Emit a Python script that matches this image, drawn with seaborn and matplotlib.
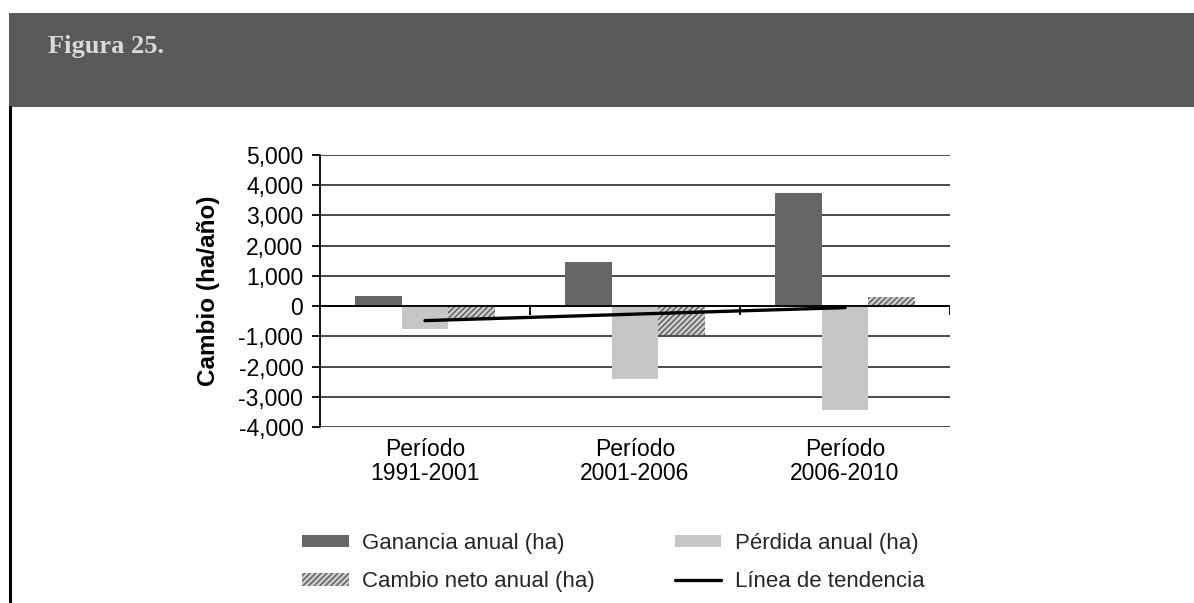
import matplotlib
matplotlib.use("Agg")
import matplotlib.pyplot as plt
import seaborn as sns
import pandas as pd
import numpy as np
from matplotlib.patches import Patch, Rectangle
from matplotlib.lines import Line2D
from matplotlib.ticker import FuncFormatter, MultipleLocator

# ---- data ----
periods = ["Período\n1991-2001", "Período\n2001-2006", "Período\n2006-2010"]
series = ["Ganancia anual (ha)", "Pérdida anual (ha)", "Cambio neto anual (ha)"]
ganancia = [350, 1450, 3750]
perdida = [-750, -2420, -3450]
cambio_neto = [-400, -970, 300]
tendencia = [-480, -265, -50]
trend_label = "Línea de tendencia"
title = "Figura 25."
ylabel = "Cambio (ha/año)"

df = pd.DataFrame({
    "period": periods * 3,
    "serie": [series[0]] * 3 + [series[1]] * 3 + [series[2]] * 3,
    "value": ganancia + perdida + cambio_neto,
})

sns.set_theme(style="white")
plt.rcParams["font.family"] = ["Liberation Sans", "DejaVu Sans"]

colors = {series[0]: "#666666", series[1]: "#c6c6c6", series[2]: "#cdcdcd"}

fig = plt.figure(figsize=(11.94, 6.03), dpi=100)
fig.patch.set_facecolor("white")

# header band
fig.add_artist(Rectangle((9 / 1194, 1 - 107 / 603), 1 - 9 / 1194, 94 / 603,
                         transform=fig.transFigure, facecolor="#59595b",
                         edgecolor="none", zorder=0))
fig.text(48 / 1194, 1 - 46 / 603, title, family=["Liberation Serif", "DejaVu Serif"],
         fontweight="bold", fontsize=19, color="#dadada", va="center", ha="left")
# left vertical rule
fig.add_artist(Line2D([10 / 1194, 10 / 1194], [0, 1 - 107 / 603],
                      transform=fig.transFigure, color="black", lw=2.2))

ax = fig.add_axes([320 / 1194, 1 - 427 / 603, 630 / 1194, 272 / 603])
sns.barplot(data=df, x="period", y="value", hue="serie", order=periods,
            hue_order=series, palette=colors, width=0.67, ax=ax,
            legend=False, saturation=1, edgecolor="none", linewidth=0,
            zorder=2)

# hatch the net-change bars
net_bars = ax.patches[6:9]
for p in net_bars:
    p.set_hatch("//////")
    p.set_edgecolor("#5a5a5a")
    p.set_linewidth(0)

# trend line
ax.plot(periods, tendencia, color="black", lw=2.4, zorder=4)

ax.set_ylim(-4000, 5000)
ax.set_xlim(-0.5, 2.5)
ax.yaxis.set_major_locator(MultipleLocator(1000))
ax.yaxis.set_major_formatter(FuncFormatter(lambda v, p: f"{int(v):,}"))
ax.set_axisbelow(True)
ax.yaxis.grid(True, color="#3a3a3a", lw=1.3)
for s in ["top", "right", "bottom"]:
    ax.spines[s].set_visible(False)
ax.spines["left"].set_color("black")
ax.spines["left"].set_linewidth(1.3)

ax.tick_params(axis="y", which="major", left=True, length=6, width=1.3,
               color="black", labelsize=16.5, pad=6, labelcolor="black")
ax.tick_params(axis="x", length=0, labelsize=16.5, pad=8, labelcolor="black")
for lab in ax.get_xticklabels():
    lab.set_linespacing(1.05)

# category axis at zero with boundary tick marks
ax.axhline(0, color="black", lw=1.3, zorder=3)
ax.vlines([0.5, 1.5, 2.5], -300, 0, color="black", lw=1.3, zorder=3)

ax.set_xlabel("")
ax.set_ylabel(ylabel, fontsize=17.5, fontweight="bold", labelpad=13, color="black")

handles = [
    Patch(facecolor=colors[series[0]], edgecolor="none"),
    Patch(facecolor=colors[series[2]], edgecolor="#5a5a5a", hatch="//////", linewidth=0),
    Patch(facecolor=colors[series[1]], edgecolor="none"),
    Line2D([0], [0], color="black", lw=2.4),
]
labels = [series[0], series[2], series[1], trend_label]
fig.legend(handles, labels, ncol=2, loc="upper left",
           bbox_to_anchor=(302 / 1194, 1 - 533 / 603), frameon=False,
           fontsize=16, handlelength=2.1, handleheight=0.5,
           handletextpad=0.6, columnspacing=3.6, labelspacing=0.78,
           borderpad=0, borderaxespad=0)

fig.savefig("out.png", dpi=100, facecolor="white")
